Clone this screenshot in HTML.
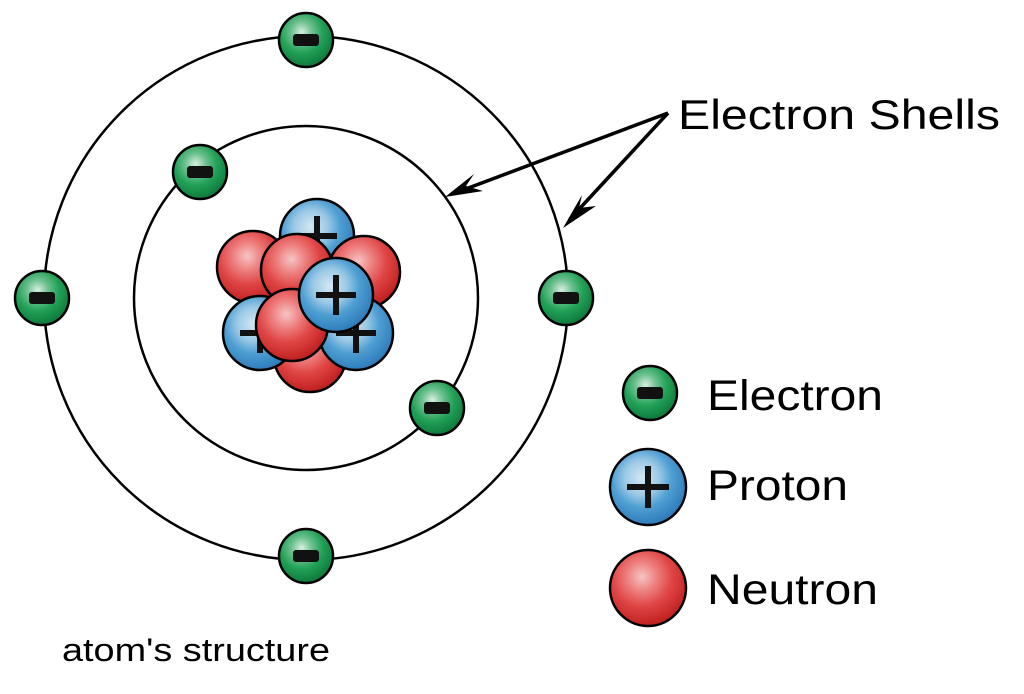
<!DOCTYPE html>
<html><head><meta charset="utf-8"><style>
html,body{margin:0;padding:0;background:#fff;}
svg{display:block;}
text{font-family:"Liberation Sans",sans-serif;fill:#000;}
</style></head><body>
<svg width="1024" height="694" viewBox="0 0 1024 694" xmlns="http://www.w3.org/2000/svg">
<defs>
<radialGradient id="g" cx="0.42" cy="0.35" r="0.65">
<stop offset="0" stop-color="#d8efe2"/><stop offset="0.3" stop-color="#6cc08e"/><stop offset="0.6" stop-color="#22a158"/><stop offset="1" stop-color="#0d7a3c"/></radialGradient>
<radialGradient id="b" cx="0.42" cy="0.38" r="0.65">
<stop offset="0" stop-color="#d4e8f4"/><stop offset="0.35" stop-color="#9cc9e6"/><stop offset="0.6" stop-color="#4f9fd3"/><stop offset="1" stop-color="#2a78b8"/></radialGradient>
<radialGradient id="r" cx="0.42" cy="0.35" r="0.65">
<stop offset="0" stop-color="#f7c4c4"/><stop offset="0.3" stop-color="#ee8080"/><stop offset="0.6" stop-color="#e04646"/><stop offset="1" stop-color="#c0201f"/></radialGradient>
<g id="e"><circle r="27" fill="url(#g)" stroke="#000" stroke-width="2.5"/><rect x="-13" y="-6" width="26" height="12" rx="3" fill="#111"/></g>
<g id="p"><circle r="37" fill="url(#b)" stroke="#000" stroke-width="2.5"/><rect x="-20" y="-3" width="40" height="6" fill="#111"/><rect x="-3" y="-20" width="6" height="40" fill="#111"/></g>
<g id="n"><circle r="36" fill="url(#r)" stroke="#000" stroke-width="2.5"/></g>
</defs>
<circle cx="306" cy="298" r="262" fill="none" stroke="#000" stroke-width="2.5"/>
<circle cx="306" cy="298" r="172" fill="none" stroke="#000" stroke-width="2.5"/>
<g stroke="#000" stroke-width="3.5" fill="none">
<line x1="668" y1="113" x2="455" y2="193"/>
<line x1="668" y1="113" x2="570" y2="219"/>
</g>
<polygon points="445,197 474,174 466,186 483,191" fill="#000"/>
<polygon points="563,228 582,195 579,208 596,206" fill="#000"/>
<use href="#e" x="306" y="40"/>
<use href="#e" x="200" y="172"/>
<use href="#e" x="42" y="298"/>
<use href="#e" x="566" y="298"/>
<use href="#e" x="437" y="408"/>
<use href="#e" x="306" y="556"/>
<use href="#p" x="317" y="236"/>
<use href="#n" x="253" y="267"/>
<use href="#n" x="364" y="272"/>
<use href="#n" x="310" y="356"/>
<use href="#p" x="260" y="333"/>
<use href="#p" x="356" y="333"/>
<use href="#n" x="297" y="270"/>
<use href="#n" x="292" y="325"/>
<use href="#p" x="336" y="295"/>
<use href="#e" x="650" y="393"/>
<g transform="translate(648,487)"><circle r="38" fill="url(#b)" stroke="#000" stroke-width="2.5"/><rect x="-21" y="-3" width="42" height="6" fill="#111"/><rect x="-3" y="-21" width="6" height="42" fill="#111"/></g>
<circle cx="648" cy="588" r="38" fill="url(#r)" stroke="#000" stroke-width="2.5"/>
<text x="678" y="129" font-size="42" textLength="322" lengthAdjust="spacingAndGlyphs">Electron Shells</text>
<text x="707" y="410" font-size="43" textLength="176" lengthAdjust="spacingAndGlyphs">Electron</text>
<text x="707" y="500" font-size="43" textLength="141" lengthAdjust="spacingAndGlyphs">Proton</text>
<text x="707" y="604" font-size="43" textLength="171" lengthAdjust="spacingAndGlyphs">Neutron</text>
<text x="62" y="661" font-size="32" textLength="268" lengthAdjust="spacingAndGlyphs">atom's structure</text>
</svg>
</body></html>
